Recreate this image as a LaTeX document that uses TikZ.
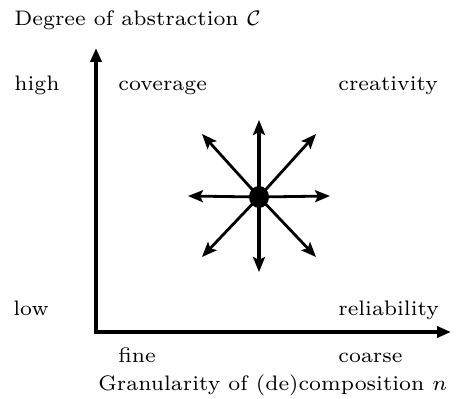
\documentclass[tikz,border=0pt]{standalone}
\usepackage{graphicx}
\usetikzlibrary{arrows.meta,shapes.geometric}
\newcommand\lab[1]{\scalebox{1.5}[1.5]{\fontsize{7}{8}\selectfont #1}}
\begin{document}
\begin{tikzpicture}[x=0.5pt,y=-0.5pt,
  lbl/.style={anchor=base west,inner sep=0pt},
  axis/.style={line width=2pt,-{Triangle[length=7pt,width=5.5pt]}},
  vray/.style={line width=2pt,-{Stealth[length=7.5pt,width=6pt,inset=1.5pt]}},
  dray/.style={line width=1.4pt,-{Stealth[length=7.5pt,width=6pt,inset=1.5pt]}}]
\useasboundingbox (0,0) rectangle (458,399);
\coordinate (O) at (96,332);
\coordinate (ytip) at (96,48);
\coordinate (xtip) at (451,332);
\draw[axis] ([yshift=-1pt]O) -- (ytip);
\draw[axis] ([xshift=-1pt]O) -- (xtip);
\node[lbl] (ttl) at (14,26) {\lab{Degree of abstraction $\mathcal{C}$}};
\node[lbl] (high) at (14,91) {\lab{high}};
\node[lbl] (cov) at (118,91) {\lab{coverage}};
\node[lbl] (cre) at (338,91) {\lab{creativity}};
\node[lbl] (low) at (13,315) {\lab{low}};
\node[lbl] (rel) at (338,315) {\lab{reliability}};
\node[lbl] (fine) at (118,362) {\lab{fine}};
\node[lbl] (coarse) at (338,362) {\lab{coarse}};
\node[lbl] (gran) at (98,390) {\lab{Granularity of (de)composition $n$}};
\node[fill=black,ellipse,minimum width=10pt,minimum height=11pt,inner sep=0pt] (c) at (259,197) {};
\coordinate (u) at (259,120);
\coordinate (d) at (259,272);
\coordinate (l) at (188,196);
\coordinate (r) at (330,196);
\coordinate (ul) at (202,134);
\coordinate (ur) at (316,134);
\coordinate (ll) at (202,257);
\coordinate (lr) at (316,257);
\draw[vray] (c.center) -- (u);
\draw[vray] (c.center) -- (d);
\foreach \t in {l,r,ul,ur,ll,lr} \draw[dray] (c.center) -- (\t);
\end{tikzpicture}
\end{document}
